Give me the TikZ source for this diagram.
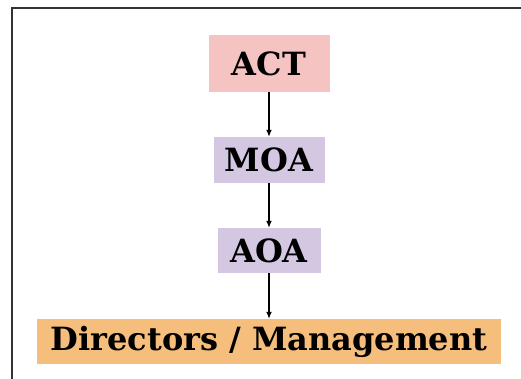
\documentclass[tikz,border=0pt]{standalone}
\usepackage{fontspec}
\setmainfont{DejaVu Serif}
\usetikzlibrary{arrows.meta}
\definecolor{actpink}{HTML}{F5C3C1}
\definecolor{docpurple}{HTML}{D4C7E2}
\definecolor{mgmtorange}{HTML}{F6BE7C}
\definecolor{framegray}{HTML}{333333}
\begin{document}
\begin{tikzpicture}[x=1pt,y=-1pt,
  box/.style={inner sep=0pt, font=\bfseries\fontsize{32}{35}\selectfont, text=black},
  link/.style={draw=black, line width=1.3pt, -{Latex[length=7pt,width=6pt]}},
  frame/.style={draw=framegray, line width=1.5pt}]
  \useasboundingbox (0,0) rectangle (521,379);
  % open frame: left and top edges only
  \draw[frame] (12,379) -- (12,8) -- (521,8);
  % the chain of documents
  \node[box, fill=actpink, minimum width=121pt, minimum height=57pt] (act) at (269,63.5) {ACT};
  \node[box, fill=docpurple, minimum width=111pt, minimum height=46pt] (moa) at (269,160) {MOA};
  \node[box, fill=docpurple, minimum width=103pt, minimum height=45pt] (aoa) at (269,250.5) {AOA};
  \node[box, fill=mgmtorange, minimum width=464pt, minimum height=45pt] (mgmt) at (269,341.5) {Directors / Management};
  % connectors
  \draw[link] (act.south) -- (moa.north);
  \draw[link] (moa.south) -- (aoa.north);
  \draw[link] (aoa.south) -- (mgmt.north);
\end{tikzpicture}
\end{document}
